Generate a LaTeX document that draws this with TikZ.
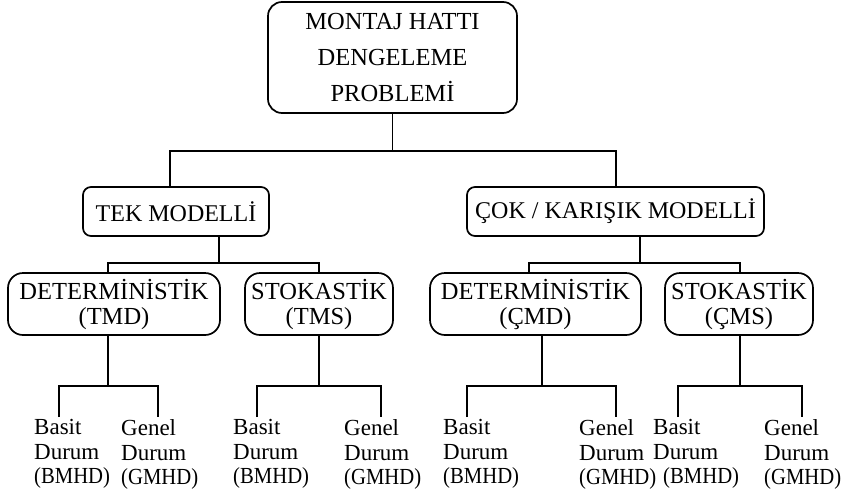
\documentclass[tikz,border=0pt]{standalone}
\usepackage{fontspec}
\usepackage{graphicx}
\setmainfont{Liberation Serif}
% narrow setting for the abbreviation lines under the cases
\newcommand{\abbrline}[1]{\scalebox{0.9}[1]{#1}}
\begin{document}
\begin{tikzpicture}[x=1pt,y=-1pt,
  box/.style={draw, line width=1.7pt, align=center, inner sep=0pt,
    font=\fontsize{24.5}{25}\selectfont},
  toplevel/.style={box, rounded corners=14pt, minimum width=249pt, minimum height=111pt,
    font=\fontsize{24.5}{36}\selectfont},
  midlevel/.style={box, rounded corners=8pt, minimum height=49pt,
    font=\fontsize{24}{25}\selectfont},
  kindlevel/.style={box, rounded corners=15pt, minimum height=62pt},
  leaf/.style={anchor=north west, inner sep=0pt, align=left,
    font=\fontsize{23}{24.5}\selectfont},
  link/.style={line width=1.7pt}]
\useasboundingbox (0,0) rectangle (846,496);

% main problem
\node[toplevel] (top) at (392.5,57.5) {MONTAJ HATTI\\DENGELEME\\PROBLEMİ};

% model classes
\node[midlevel, minimum width=186pt] (tek) at (176,211.5) {TEK MODELLİ};
\node[midlevel, minimum width=297pt] (cok) at (615.5,211.5) {ÇOK / KARIŞIK MODELLİ};

% deterministic / stochastic
\node[kindlevel, minimum width=212pt] (tmd) at (114,304) {DETERMİNİSTİK\\(TMD)};
\node[kindlevel, minimum width=148pt] (tms) at (319,304) {STOKASTİK\\(TMS)};
\node[kindlevel, minimum width=211pt] (cmd) at (535.5,304) {DETERMİNİSTİK\\(ÇMD)};
\node[kindlevel, minimum width=148pt] (cms) at (739,304) {STOKASTİK\\(ÇMS)};

% simple / general cases
\node[leaf] (tmdb) at (34,419.5)  {Basit\\Durum\\\abbrline{(BMHD)}};
\node[leaf] (tmdg) at (121,419.5) {Genel\\Durum\\\abbrline{(GMHD)}};
\node[leaf] (tmsb) at (233,419.5) {Basit\\Durum\\\abbrline{(BMHD)}};
\node[leaf] (tmsg) at (344,419.5) {Genel\\Durum\\\abbrline{(GMHD)}};
\node[leaf] (cmdb) at (443,419.5) {Basit\\Durum\\\abbrline{(BMHD)}};
\node[leaf] (cmdg) at (579,419.5) {Genel\\Durum\\\abbrline{(GMHD)}};
\node[leaf] (cmsb) at (653,419.5) {Basit\\Durum\\\hspace*{10pt}\abbrline{(BMHD)}};
\node[leaf] (cmsg) at (764,419.5) {Genel\\Durum\\\abbrline{(GMHD)}};

% tree connectors
\draw[link] (top.south) -- ++(0,37) coordinate (j0);
\draw[link] ([xshift=-6pt]tek.north) |- (j0) -| ([xshift=0.5pt]cok.north);

\draw[link] ([xshift=43pt]tek.south) -- ++(0,26) coordinate (j1);
\draw[link] ([xshift=-6pt]tmd.north) |- (j1) -| (tms.north);

\draw[link] ([xshift=24.5pt]cok.south) -- ++(0,26) coordinate (j2);
\draw[link] ([xshift=-6.5pt]cmd.north) |- (j2) -| ([xshift=1pt]cms.north);

\draw[link] ([xshift=-6pt]tmd.south) -- ++(0,50) coordinate (j3);
\draw[link] ([xshift=25pt,yshift=2.5pt]tmdb.north west) |- (j3) -| ([xshift=37pt,yshift=2.5pt]tmdg.north west);

\draw[link] (tms.south) -- ++(0,50) coordinate (j4);
\draw[link] ([xshift=24pt,yshift=2.5pt]tmsb.north west) |- (j4) -| ([xshift=37pt,yshift=2.5pt]tmsg.north west);

\draw[link] ([xshift=6.5pt]cmd.south) -- ++(0,50) coordinate (j5);
\draw[link] ([xshift=24pt,yshift=2.5pt]cmdb.north west) |- (j5) -| ([xshift=37pt,yshift=2.5pt]cmdg.north west);

\draw[link] ([xshift=1pt]cms.south) -- ++(0,50) coordinate (j6);
\draw[link] ([xshift=25pt,yshift=2.5pt]cmsb.north west) |- (j6) -| ([xshift=38pt,yshift=2.5pt]cmsg.north west);
\end{tikzpicture}
\end{document}
